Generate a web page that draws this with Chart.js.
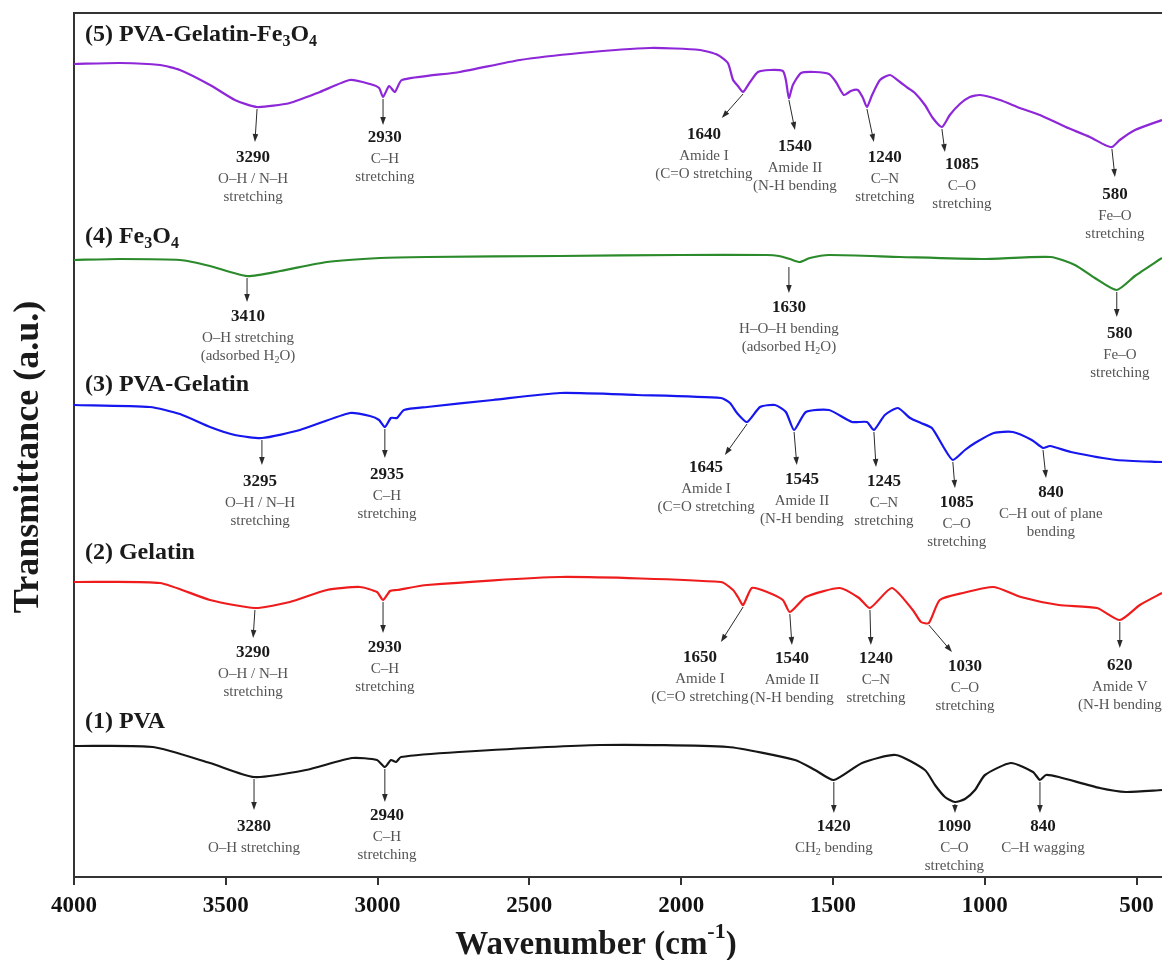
<!DOCTYPE html>
<html>
<head>
<meta charset="utf-8">
<title>FTIR spectra</title>
<script src="https://cdn.jsdelivr.net/npm/chart.js@4.4.1/dist/chart.umd.min.js"></script>
<style>
  html, body { margin: 0; padding: 0; background: #fff; }
  #wrap { width: 1162px; height: 960px; position: relative; }
</style>
</head>
<body>
<div id="wrap"><canvas id="ftir"></canvas></div>
<script>
// --- DATA ---
// x = wavenumber (cm-1), y = transmittance (a.u., curves stacked as in the figure)
const xMin = 416;
const xMax = 4000;
const xTicks = [4000, 3500, 3000, 2500, 2000, 1500, 1000, 500];
const yMax = 864;

// (1) PVA
const pvaWn = [4000,3740,3552,3407,3236,3084,3002,2976,2956,2939,2923,2732,2267,1846,1625,1559,1497,1404,1293,1197,1164,1131,1098,1065,1032,999,914,841,818,798,756,621,535,416];
const pvaT  = [131,130,114,100,107,119,117,110,117,115,120,125,132,130,117,107,97,114,122,107,92,80,75,78,87,102,114,105,97,102,100,89,85,87];

// (2) Gelatin
const gelWn = [4000,3717,3552,3404,3289,3167,3058,3002,2982,2959,2936,2837,2399,1869,1829,1813,1796,1767,1717,1665,1642,1589,1477,1414,1378,1306,1237,1210,1184,1148,1072,970,881,756,630,555,489,416];
const gelT  = [295,294,277,269,275,287,290,285,277,286,287,292,300,295,287,280,272,289,285,277,265,280,289,279,269,289,267,255,254,277,284,290,280,272,269,257,272,284];

// (3) PVA-Gelatin
const pgWn = [4000,3750,3651,3552,3470,3381,3256,3091,3025,2995,2976,2956,2936,2913,2837,2620,2399,2146,1869,1839,1816,1783,1740,1691,1655,1628,1589,1513,1437,1388,1365,1329,1286,1246,1210,1174,1134,1105,1065,1032,970,907,845,808,785,716,565,416];
const pgT  = [472,470,463,450,442,439,447,464,461,457,450,459,459,467,470,477,484,482,479,474,464,455,470,472,465,447,465,467,455,455,447,462,469,459,454,449,429,417,427,434,444,445,437,429,431,425,417,415];

// (4) Fe3O4
const feWn = [4000,3848,3651,3552,3430,3321,3167,2992,2837,2399,2004,1717,1678,1642,1609,1576,1513,1279,1009,782,703,637,565,505,416];
const feT  = [617,618,617,611,601,606,615,619,620,621,622,622,621,618,615,619,622,620,618,620,612,599,587,601,619];

// (5) PVA-Gelatin-Fe3O4
const pgfWn = [4000,3848,3717,3651,3552,3470,3397,3289,3190,3091,3025,2995,2982,2962,2943,2920,2729,2531,2333,2103,1938,1879,1846,1829,1813,1796,1773,1747,1707,1665,1655,1645,1632,1605,1559,1513,1490,1464,1441,1418,1401,1388,1371,1345,1312,1279,1253,1230,1197,1171,1141,1115,1082,1049,1016,950,884,818,733,654,604,581,555,505,416];
const pgfT  = [813,814,812,807,792,777,770,774,785,797,793,789,780,791,785,797,805,817,824,829,827,822,814,797,791,785,795,805,807,806,797,779,792,804,805,803,795,782,786,787,779,770,782,797,802,795,789,784,772,759,750,762,773,780,782,777,769,762,750,740,732,730,737,747,757];

const seriesNames = ['(1) PVA', '(2) Gelatin', '(3) PVA-Gelatin', '(4) Fe_{3}O_{4}', '(5) PVA-Gelatin-Fe_{3}O_{4}'];
const seriesColors = ['#161616', '#ee1c1c', '#1616ee', '#2b8a2b', '#8d27d8'];
const seriesLabelY = [155, 324, 492, 640, 842];
const seriesLabelWn = 3964;

// peak marks: [arrow from wn, T, arrow to wn, T, label wn, label T, number, text lines...]
const pvaPeaks = [
    [3407, 100, 3407, 67, 3407, 50, '3280', 'O–H stretching'],
    [2976, 110, 2976, 75, 2969, 61, '2940', 'C–H', 'stretching'],
    [1497, 97, 1497, 64, 1497, 50, '1420', 'CH_{2} bending'],
    [1098, 75, 1098, 64, 1100, 50, '1090', 'C–O', 'stretching'],
    [818, 97, 818, 64, 808, 50, '840', 'C–H wagging']
];
const gelPeaks = [
    [3404, 269, 3410, 239, 3410, 224, '3290', 'O–H / N–H', 'stretching'],
    [2982, 277, 2982, 244, 2976, 229, '2930', 'C–H', 'stretching'],
    [1796, 272, 1869, 235, 1938, 219, '1650', 'Amide I', '(C=O stretching'],
    [1642, 265, 1635, 232, 1635, 218, '1540', 'Amide II', '(N-H bending'],
    [1378, 269, 1375, 232, 1358, 218, '1240', 'C–N', 'stretching'],
    [1184, 254, 1108, 225, 1065, 210, '1030', 'C–O', 'stretching'],
    [555, 257, 555, 229, 555, 211, '620', 'Amide V', '(N-H bending']
];
const pgPeaks = [
    [3381, 439, 3381, 412, 3387, 395, '3295', 'O–H / N–H', 'stretching'],
    [2976, 450, 2976, 419, 2969, 402, '2935', 'C–H', 'stretching'],
    [1783, 455, 1856, 422, 1918, 409, '1645', 'Amide I', '(C=O stretching'],
    [1628, 447, 1619, 412, 1602, 397, '1545', 'Amide II', '(N-H bending'],
    [1365, 447, 1358, 410, 1332, 395, '1245', 'C–N', 'stretching'],
    [1105, 417, 1098, 389, 1092, 374, '1085', 'C–O', 'stretching'],
    [808, 429, 798, 399, 782, 384, '840', 'C–H out of plane', 'bending']
];
const fePeaks = [
    [3430, 601, 3430, 575, 3427, 560, '3410', 'O–H stretching', '(adsorbed H_{2}O)'],
    [1645, 612, 1645, 584, 1645, 569, '1630', 'H–O–H bending', '(adsorbed H_{2}O)'],
    [565, 587, 565, 560, 555, 543, '580', 'Fe–O', 'stretching']
];
const pgfPeaks = [
    [3397, 770, 3404, 735, 3410, 719, '3290', 'O–H / N–H', 'stretching'],
    [2982, 780, 2982, 752, 2976, 739, '2930', 'C–H', 'stretching'],
    [1796, 785, 1866, 759, 1925, 742, '1640', 'Amide I', '(C=O stretching'],
    [1645, 779, 1625, 747, 1625, 730, '1540', 'Amide II', '(N-H bending'],
    [1388, 770, 1365, 735, 1329, 719, '1240', 'C–N', 'stretching'],
    [1141, 750, 1131, 725, 1075, 712, '1085', 'C–O', 'stretching'],
    [581, 730, 571, 700, 571, 682, '580', 'Fe–O', 'stretching']
];

const serif = "'Liberation Serif', 'Times New Roman', serif";

// --- HELPERS ---
const toPoints = (wn, t) => wn.map((v, i) => ({ x: v, y: t[i] }));

// draws text with _{sub} and ^{sup} parts
function drawRich(ctx, str, x, y, size, weight, align, color) {
    const segs = [];
    const re = /([_^])\{([^}]*)\}/g;
    let last = 0, m;
    while ((m = re.exec(str))) {
        if (m.index > last) segs.push({ t: str.slice(last, m.index), k: '' });
        segs.push({ t: m[2], k: m[1] });
        last = re.lastIndex;
    }
    if (last < str.length) segs.push({ t: str.slice(last), k: '' });
    const fontFor = k => `${weight} ${k ? Math.round(size * 0.66) : size}px ${serif}`;
    let w = 0;
    segs.forEach(s => { ctx.font = fontFor(s.k); s.w = ctx.measureText(s.t).width; w += s.w; });
    let cx = align === 'left' ? x : (align === 'right' ? x - w : x - w / 2);
    ctx.fillStyle = color;
    ctx.textAlign = 'left';
    ctx.textBaseline = 'middle';
    segs.forEach(s => {
        ctx.font = fontFor(s.k);
        const dy = s.k === '_' ? size * 0.3 : (s.k === '^' ? -size * 0.38 : 0);
        ctx.fillText(s.t, cx, y + dy);
        cx += s.w;
    });
}

function drawPeak(ctx, xs, ys, p) {
    const x1 = xs.getPixelForValue(p[0]), y1 = ys.getPixelForValue(p[1]) + 2;
    const x2 = xs.getPixelForValue(p[2]), y2 = ys.getPixelForValue(p[3]);
    const ang = Math.atan2(y2 - y1, x2 - x1);
    const head = 8, half = 2.8;
    ctx.strokeStyle = '#2a2a2a';
    ctx.fillStyle = '#2a2a2a';
    ctx.lineWidth = 1;
    ctx.beginPath();
    ctx.moveTo(x1, y1);
    ctx.lineTo(x2 - Math.cos(ang) * head * 0.6, y2 - Math.sin(ang) * head * 0.6);
    ctx.stroke();
    ctx.beginPath();
    ctx.moveTo(x2, y2);
    ctx.lineTo(x2 - Math.cos(ang) * head - Math.sin(ang) * half, y2 - Math.sin(ang) * head + Math.cos(ang) * half);
    ctx.lineTo(x2 - Math.cos(ang) * head + Math.sin(ang) * half, y2 - Math.sin(ang) * head - Math.cos(ang) * half);
    ctx.closePath();
    ctx.fill();

    const lx = xs.getPixelForValue(p[4]), ly = ys.getPixelForValue(p[5]);
    drawRich(ctx, p[6], lx, ly, 17, 'bold', 'center', '#1a1a1a');
    p.slice(7).forEach((line, i) => {
        drawRich(ctx, line, lx, ly + 21 + i * 18, 15, 'normal', 'center', '#555');
    });
}

// --- PLUGIN: frame, peak labels, curve names, axis titles ---
const figureText = {
    id: 'figureText',
    afterDatasetsDraw(chart) {
        const { ctx, chartArea, scales: { x, y } } = chart;
        ctx.save();
        ctx.strokeStyle = '#333';
        ctx.lineWidth = 2;
        ctx.beginPath();
        ctx.moveTo(chartArea.left - 1, chartArea.top);
        ctx.lineTo(chartArea.right, chartArea.top);
        ctx.stroke();

        [pvaPeaks, gelPeaks, pgPeaks, fePeaks, pgfPeaks].forEach(set => set.forEach(p => drawPeak(ctx, x, y, p)));

        seriesNames.forEach((name, i) => {
            drawRich(ctx, name, x.getPixelForValue(seriesLabelWn), y.getPixelForValue(seriesLabelY[i]), 24, 'bold', 'left', '#1a1a1a');
        });

        drawRich(ctx, 'Wavenumber (cm^{-1})', (chartArea.left + chartArea.right) / 2 - 22, 945, 33, 'bold', 'center', '#1a1a1a');
        ctx.translate(29, (chartArea.top + chartArea.bottom) / 2 + 12);
        ctx.rotate(-Math.PI / 2);
        drawRich(ctx, 'Transmittance (a.u.)', 0, 0, 36, 'bold', 'center', '#1a1a1a');
        ctx.restore();
    }
};

const curves = [
    [pvaWn, pvaT], [gelWn, gelT], [pgWn, pgT], [feWn, feT], [pgfWn, pgfT]
];

new Chart(document.getElementById('ftir'), {
    type: 'line',
    data: {
        datasets: curves.map((c, i) => ({
            label: seriesNames[i],
            data: toPoints(c[0], c[1]),
            borderColor: seriesColors[i],
            borderWidth: 2.2,
            pointRadius: 0,
            tension: 0.2,
            fill: false
        }))
    },
    options: {
        responsive: true,
        maintainAspectRatio: false,
        animation: false,
        layout: { padding: { top: 13, left: 0, right: 0, bottom: 0 } },
        plugins: { legend: { display: false }, tooltip: { enabled: false } },
        scales: {
            x: {
                type: 'linear',
                reverse: true,
                min: xMin,
                max: xMax,
                afterBuildTicks: s => { s.ticks = xTicks.map(v => ({ value: v })); },
                afterFit: s => { s.height = 83; },
                grid: { drawOnChartArea: false, drawTicks: true, tickLength: 8, color: '#333', lineWidth: 2 },
                border: { display: true, color: '#333', width: 2 },
                ticks: {
                    color: '#111',
                    padding: 7,
                    maxRotation: 0,
                    autoSkip: false,
                    font: { family: serif, size: 23, weight: 'bold' },
                    callback: v => String(v)
                }
            },
            y: {
                min: 0,
                max: yMax,
                afterFit: s => { s.width = 74; },
                grid: { display: false },
                border: { display: true, color: '#333', width: 2 },
                ticks: { display: false }
            }
        }
    },
    plugins: [figureText]
});
</script>
</body>
</html>
